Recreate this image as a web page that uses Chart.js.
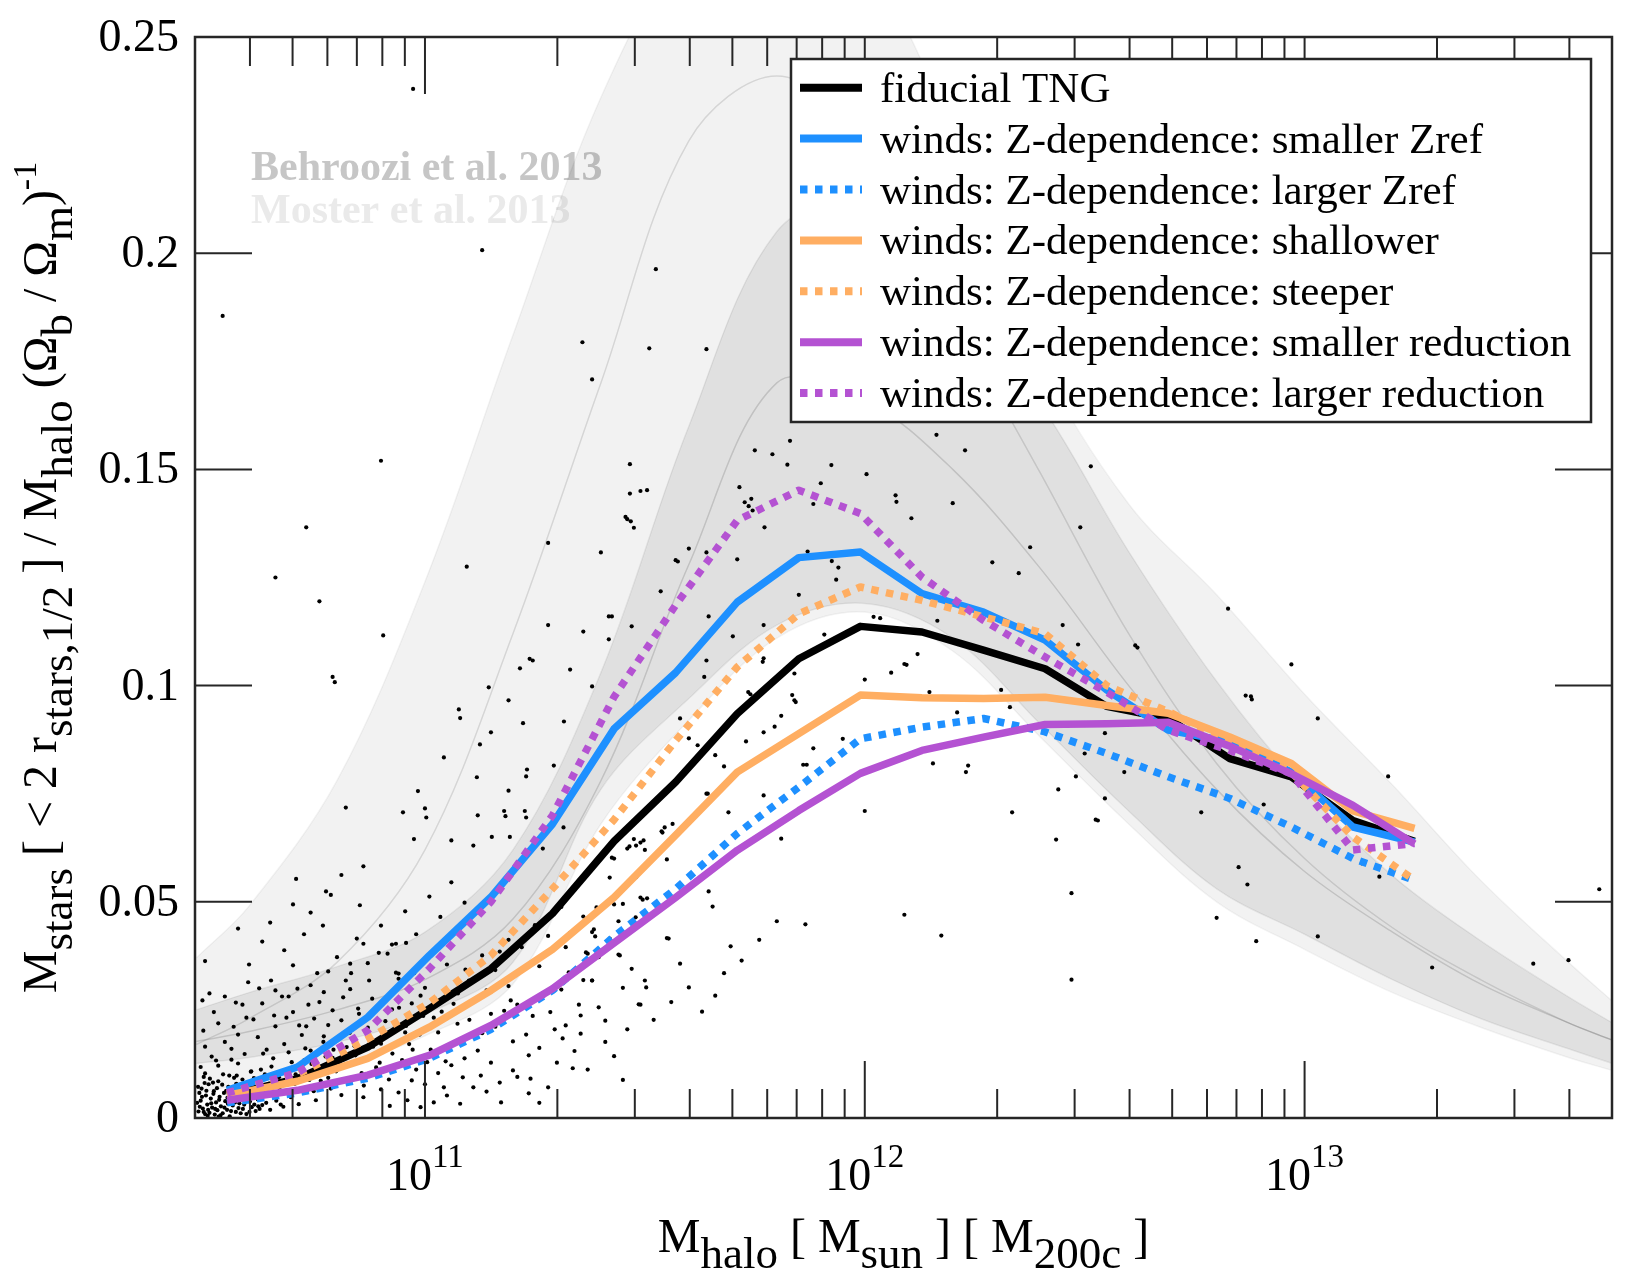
<!DOCTYPE html>
<html>
<head>
<meta charset="utf-8">
<script src="https://cdn.jsdelivr.net/npm/chart.js@4.4.1/dist/chart.umd.min.js"></script>
<style>
  html, body { margin: 0; padding: 0; background: #ffffff; }
  canvas { display: block; }
</style>
</head>
<body>
<canvas id="shmr" width="1650" height="1275"></canvas>
<script>
"use strict"

const SERIF = '"Liberation Serif", "Times New Roman", serif';

// bin centres, log10 of halo mass
const binLogM = [10.55, 10.71, 10.87, 11.01, 11.15, 11.29, 11.43, 11.57, 11.71, 11.85,
                 11.99, 12.13, 12.27, 12.41, 12.55, 12.69, 12.83, 12.97, 13.11, 13.25];

const fiducial       = [0.0052, 0.0091, 0.0164, 0.0253, 0.0345, 0.0473, 0.0640, 0.0777, 0.0935, 0.1062,
                        0.1137, 0.1124, 0.1082, 0.1039, 0.0952, 0.0924, 0.0831, 0.0789, 0.0688, 0.0640];
const smallerZref    = [0.0064, 0.0118, 0.0233, 0.0376, 0.0511, 0.0680, 0.0900, 0.1030, 0.1193, 0.1296,
                        0.1309, 0.1213, 0.1170, 0.1105, 0.0990, 0.0897, 0.0870, 0.0800, 0.0673, 0.0638];
const largerZref     = [0.0035, 0.0058, 0.0092, 0.0138, 0.0205, 0.0295, 0.0420, 0.0530, 0.0658, 0.0765,
                        0.0877, 0.0904, 0.0924, 0.0893, 0.0843, 0.0789, 0.0739, 0.0673, 0.0600, 0.0550];
const shallower      = [0.0052, 0.0085, 0.0138, 0.0210, 0.0295, 0.0390, 0.0510, 0.0654, 0.0800, 0.0889,
                        0.0978, 0.0972, 0.0970, 0.0973, 0.0954, 0.0936, 0.0881, 0.0820, 0.0710, 0.0670];
const steeper        = [0.0056, 0.0101, 0.0183, 0.0266, 0.0376, 0.0530, 0.0690, 0.0873, 0.1043, 0.1166,
                        0.1228, 0.1197, 0.1159, 0.1120, 0.1000, 0.0940, 0.0870, 0.0800, 0.0650, 0.0550];
const smallerReduct  = [0.0041, 0.0064, 0.0099, 0.0145, 0.0214, 0.0299, 0.0405, 0.0510, 0.0619, 0.0711,
                        0.0797, 0.0850, 0.0881, 0.0910, 0.0912, 0.0915, 0.0860, 0.0796, 0.0723, 0.0634];
const largerReduct   = [0.0058, 0.0105, 0.0203, 0.0345, 0.0500, 0.0700, 0.0974, 0.1186, 0.1382, 0.1452,
                        0.1398, 0.1251, 0.1151, 0.1066, 0.0985, 0.0897, 0.0850, 0.0796, 0.0620, 0.0635];

// observational bands (grey), log10 halo mass
const bandLogM    = [10.48, 10.6, 10.8, 11.0, 11.2, 11.4, 11.6, 11.8, 12.0, 12.2, 12.4, 12.6, 12.8, 13.0, 13.2, 13.4, 13.6, 13.7];
const mosterUp    = [0.037, 0.049, 0.078, 0.124, 0.181, 0.236, 0.272, 0.285, 0.268, 0.228, 0.175, 0.142, 0.121, 0.098, 0.077, 0.055, 0.036, 0.027];
const mosterMid   = [0.017, 0.023, 0.036, 0.062, 0.112, 0.170, 0.226, 0.241, 0.226, 0.186, 0.149, 0.112, 0.082, 0.060, 0.044, 0.032, 0.022, 0.018];
const mosterLow   = [0.006, 0.008, 0.012, 0.019, 0.031, 0.068, 0.092, 0.111, 0.117, 0.108, 0.088, 0.068, 0.050, 0.039, 0.029, 0.021, 0.014, 0.011];
const behrooziUp  = [0.025, 0.029, 0.035, 0.043, 0.062, 0.103, 0.160, 0.205, 0.212, 0.190, 0.165, 0.131, 0.101, 0.076, 0.056, 0.041, 0.028, 0.022];
const behrooziMid = [0.0177, 0.020, 0.025, 0.032, 0.046, 0.078, 0.128, 0.170, 0.166, 0.150, 0.127, 0.100, 0.076, 0.057, 0.043, 0.031, 0.022, 0.018];
const behrooziLow = [0.0126, 0.014, 0.0175, 0.024, 0.036, 0.076, 0.097, 0.114, 0.119, 0.111, 0.091, 0.071, 0.053, 0.0425, 0.032, 0.023, 0.016, 0.0126];

// individual haloes [log10 M, value]
const haloDots = [
  [10.54,0.1855],[10.973,0.238],[11.13,0.2007],[11.358,0.1794],[11.38,0.1708],[11.51,0.178],[11.64,0.1778],[11.525,0.1963],
  [10.73,0.1366],[10.66,0.125],[10.76,0.1195],[10.90,0.152],[10.905,0.1116],[10.79,0.102],[10.795,0.1008],[11.095,0.1275],
  [11.466,0.1512],[11.49,0.145],[11.505,0.1452],[11.46,0.1385],[11.468,0.138],[11.475,0.1365],[11.28,0.133],[11.40,0.1308],
  [11.36,0.1125],[11.28,0.114],[11.245,0.1058],[11.238,0.1062],[11.216,0.104],[11.33,0.1037],[11.145,0.0996],[11.19,0.0966],
  [11.38,0.0998],[11.077,0.0945],[11.08,0.0925],[11.043,0.0834],[11.15,0.0892],[11.223,0.0913],[11.316,0.0917],[11.418,0.1107],
  [11.125,0.0864],[11.418,0.116],[11.75,0.1544],[11.79,0.1535],[11.83,0.1566],[11.824,0.1511],[11.924,0.151],[11.90,0.1468],
  [12.004,0.1489],[11.715,0.1459],[11.736,0.1415],[11.742,0.1432],[11.745,0.1405],[12.163,0.158],[12.228,0.1544],[11.466,0.1444],
  [11.456,0.139],[11.60,0.1317],[11.57,0.129],[11.575,0.1287],[11.64,0.1308],[11.71,0.1292],[11.68,0.1345],[11.727,0.1424],
  [11.772,0.1366],[11.883,0.142],[12.07,0.144],[12.072,0.1425],[12.106,0.1387],[12.2,0.1422],[12.49,0.1366],[12.376,0.132],
  [12.29,0.1285],[12.35,0.126],[11.87,0.131],[11.872,0.1298],[11.94,0.1273],[11.925,0.1288],[11.85,0.121],[11.935,0.1245],
  [11.536,0.1218],[11.645,0.116],[11.425,0.116],[11.47,0.1137],[11.70,0.1114],[11.77,0.114],[12.02,0.1159],[12.035,0.1156],
  [12.12,0.1073],[12.09,0.105],[12.095,0.1048],[12.06,0.103],[12.0,0.1014],[11.908,0.1118],[11.84,0.1028],[11.84,0.0966],
  [11.835,0.0978],[11.843,0.0962],[11.81,0.093],[11.795,0.0905],[11.77,0.0892],[11.74,0.098],[11.735,0.0985],[11.77,0.1063],
  [11.768,0.1055],[11.64,0.1058],[11.635,0.102],[11.58,0.0924],[11.60,0.0878],[11.62,0.0862],[11.66,0.0839],[11.68,0.0813],
  [11.73,0.0871],[11.643,0.075],[11.563,0.068],[11.538,0.0663],[11.49,0.0637],[11.475,0.0645],[11.48,0.063],[11.46,0.0623],
  [11.465,0.0628],[11.43,0.060],[11.425,0.0602],[11.55,0.0598],[11.42,0.0556],[11.49,0.051],[11.505,0.0508],[11.495,0.0505],
  [11.81,0.0646],[11.883,0.0855],[11.95,0.0877],[11.86,0.0817],[11.868,0.0817],[11.77,0.0746],[11.69,0.0707],[11.645,0.0524],
  [12.0,0.071],[12.155,0.082],[12.23,0.080],[12.235,0.0815],[12.335,0.0707],[12.44,0.076],[12.48,0.079],[12.53,0.0688],
  [12.435,0.0644],[12.546,0.0739],[12.47,0.052],[12.21,0.0938],[12.31,0.099],[12.33,0.095],[12.147,0.0985],[12.165,0.115],
  [12.45,0.114],[12.485,0.1095],[12.546,0.089],[12.514,0.1507],[12.826,0.1178],[12.615,0.1093],[12.62,0.1088],[12.97,0.1049],
  [12.866,0.0977],[12.878,0.0975],[12.88,0.0968],[13.03,0.0924],[12.59,0.080],[12.50,0.0843],[12.765,0.0707],[12.525,0.069],
  [13.19,0.079],[12.85,0.058],[12.87,0.054],[12.907,0.0725],[12.80,0.0463],[12.89,0.0409],[13.03,0.042],[13.13,0.0589],
  [12.47,0.032],[13.29,0.0348],[13.52,0.0357],[13.60,0.0365],[13.67,0.0529],[12.09,0.047],[12.174,0.0422],[13.17,0.0558],
  [10.82,0.0718],[10.984,0.0756],[11.0,0.0716],[11.003,0.0695],[10.95,0.0707],[11.118,0.0788],[11.232,0.0806],[11.23,0.079],
  [11.293,0.0815],[11.19,0.0757],[11.12,0.070],[11.18,0.071],[11.183,0.0698],[11.227,0.071],[11.23,0.0695],[10.975,0.0645],
  [11.06,0.0642],[11.11,0.063],[11.152,0.065],[11.193,0.065],[11.268,0.0623],[11.315,0.0672],[10.707,0.0553],[10.775,0.0524],
  [10.786,0.0516],[10.70,0.0494],[10.852,0.0492],[10.648,0.0452],[10.575,0.0438],[10.768,0.0445],[10.50,0.0363],[10.60,0.0355],
  [10.70,0.0353],[10.65,0.0318],[10.623,0.030],[10.598,0.0314],[10.675,0.0281],[10.69,0.0281],[10.51,0.0288],[10.494,0.0272],
  [10.57,0.0267],[10.74,0.0307],[10.78,0.0339],[10.83,0.0357],[10.832,0.0335],[10.86,0.0403],[10.895,0.0382],[10.915,0.038],
  [10.934,0.0403],[10.957,0.0405],[10.934,0.0336],[10.94,0.0334],[10.975,0.0335],[10.873,0.0318],[10.814,0.0279],[10.79,0.0249],
  [10.848,0.0253],[10.748,0.023],[10.714,0.0214],[10.73,0.0212],[10.657,0.0237],[10.594,0.0232],[10.53,0.0219],[10.56,0.016],
  [10.496,0.0202],[10.525,0.0133],[10.50,0.0103],[10.632,0.0149],[10.575,0.0126],[11.336,0.0115],[11.236,0.0057],[11.173,0.0036],
  [11.02,0.0036],[11.11,0.0071],[11.043,0.0071],[11.086,0.0094],[11.127,0.0098],[11.20,0.011],[11.21,0.0095],[11.236,0.0145],
  [11.313,0.0184],[11.354,0.0195],[11.354,0.0237],[11.395,0.0256],[11.486,0.0263],[11.32,0.0214],[11.195,0.0272],[11.38,0.0318],
  [11.44,0.0378],[11.50,0.0318],[11.503,0.0302],[11.58,0.0357],[11.66,0.0283],[11.554,0.0415],[11.64,0.075],[11.654,0.0489],
  [11.545,0.0672],[11.54,0.066],[11.497,0.0642],[11.50,0.062],[11.48,0.0557],[11.43,0.0494],[11.45,0.0495],[11.479,0.0464],
  [11.384,0.0436],[11.387,0.042],[11.366,0.0383],[11.37,0.038],[11.395,0.0372],[11.327,0.0337],[11.695,0.0397],[11.865,0.0448],
  [11.55,0.0416],[11.443,0.0376],[11.38,0.043],[11.49,0.0262],
  // dense low-mass cloud
  [10.485,0.0015],[10.49,0.004],[10.492,0.0068],[10.495,0.0022],[10.50,0.0009],[10.502,0.0052],[10.505,0.0031],[10.508,0.0078],
  [10.51,0.0012],[10.513,0.0045],[10.516,0.0024],[10.52,0.0062],[10.522,0.0008],[10.525,0.0036],[10.528,0.0018],[10.53,0.0085],
  [10.533,0.0049],[10.536,0.0027],[10.54,0.0011],[10.543,0.0058],[10.546,0.0039],[10.55,0.0019],[10.553,0.0072],[10.556,0.0004],
  [10.56,0.0044],[10.563,0.0029],[10.566,0.0093],[10.57,0.0014],[10.574,0.0054],[10.578,0.0034],[10.582,0.0066],[10.586,0.0021],
  [10.59,0.0047],[10.594,0.0009],[10.598,0.0081],[10.602,0.0038],[10.606,0.0025],[10.61,0.0059],[10.615,0.0016],[10.62,0.0043],
  [10.487,0.0058],[10.497,0.0095],[10.506,0.0005],[10.518,0.0082],[10.531,0.0003],[10.541,0.0101],[10.552,0.0033],[10.561,0.0069],
  [10.572,0.0098],[10.581,0.0011],[10.593,0.0062],[10.604,0.0107],[10.612,0.0031],[10.624,0.0021],[10.628,0.0088],[10.633,0.0052],
  [10.625,0.0074],[10.63,0.003],[10.636,0.0101],[10.642,0.0055],[10.648,0.0019],[10.655,0.0088],[10.662,0.004],[10.67,0.0065],
  [10.678,0.0026],[10.686,0.0112],[10.695,0.0048],[10.704,0.0079],[10.713,0.0032],[10.722,0.0097],[10.732,0.006],[10.742,0.0125],
  [10.752,0.0041],[10.763,0.0086],[10.774,0.0142],[10.786,0.0068],[10.798,0.0108],[10.81,0.0053],[10.822,0.0164],[10.835,0.0092],
  [10.848,0.0128],[10.861,0.0075],[10.875,0.0183],[10.889,0.0117],[10.903,0.0152],[10.918,0.0089],[10.933,0.0205],[10.948,0.0134],
  [10.964,0.0171],[10.98,0.0112],[10.996,0.0236],[11.013,0.0158],[11.03,0.0198],[11.047,0.0131],[11.065,0.0264],[11.083,0.0182],
  [11.101,0.0227],[11.12,0.0156],[11.14,0.0295],[11.16,0.0211],[11.18,0.0248],[11.20,0.0177],[11.22,0.034],[11.245,0.0236],
  [11.27,0.0283],[11.295,0.0205],[11.32,0.0395],[11.35,0.0262],[11.38,0.0318],[11.41,0.0225],[11.44,0.0455],[11.47,0.0345],
  [10.49,0.0118],[10.50,0.0165],[10.515,0.0142],[10.53,0.0121],[10.545,0.0176],[10.56,0.0135],[10.575,0.0193],[10.59,0.0148],
  [10.605,0.0108],[10.62,0.0187],[10.64,0.0158],[10.66,0.0212],[10.68,0.0171],[10.70,0.0245],[10.72,0.0192],[10.74,0.0156],
  [10.76,0.0268],[10.78,0.0215],[10.80,0.0181],[10.83,0.0298],[10.85,0.0241],[10.88,0.0276],[10.91,0.0224],[10.94,0.0322],
  [10.97,0.0265],[11.0,0.0301],[10.655,0.0138],[10.668,0.0094],[10.69,0.0152],[10.71,0.0118],[10.728,0.0161],[10.75,0.0102],
  [10.77,0.0189],[10.79,0.0139],[10.81,0.0226],[10.84,0.0166],[10.87,0.0209],[10.9,0.0172],[10.925,0.0251],[10.955,0.0198],
  [10.99,0.0283],[11.02,0.0232],[11.05,0.0355],[11.075,0.0288],[11.1,0.0318],[11.13,0.0376],[11.16,0.0342],[11.19,0.0412],
  [11.22,0.0395],[11.25,0.0446],[11.28,0.0421],[11.31,0.0488],[11.34,0.0528],[11.36,0.0466],[10.86,0.0048],[10.9,0.0066],
  [10.94,0.0059],[10.97,0.0087],[11.0,0.0078],[11.03,0.0104],[11.06,0.0122],[11.09,0.0138],[11.15,0.0128],[11.26,0.0162],
  [10.482,0.0035],[10.484,0.0072],[10.488,0.0026],[10.493,0.0049],[10.497,0.0014],[10.499,0.0081],[10.503,0.0063],[10.507,0.0019],
  [10.511,0.0091],[10.514,0.0034],[10.519,0.0056],[10.523,0.0021],[10.527,0.0069],[10.532,0.0042],[10.535,0.0006],[10.539,0.0077],
  [10.544,0.0024],[10.548,0.0063],[10.551,0.0047],[10.555,0.0098],[10.559,0.0016],[10.564,0.0061],[10.568,0.0036],[10.571,0.0079],
  [10.576,0.0023],[10.58,0.0051],[10.585,0.0089],[10.589,0.0031],[10.592,0.0072],[10.597,0.0045],[10.601,0.0014],[10.607,0.0068],
  [10.611,0.0092],[10.617,0.0051],[10.621,0.0027],[10.627,0.0112],[10.634,0.0064],[10.639,0.0035],[10.645,0.0079],[10.651,0.0119],
  [10.658,0.0057],[10.664,0.0096],[10.672,0.0031],[10.68,0.0083],[10.688,0.0058],[10.697,0.0129],[10.706,0.0101],[10.716,0.0067],
  [10.726,0.0134],[10.737,0.0088],[10.747,0.0062],[10.758,0.0115],[10.769,0.0176],[10.78,0.0093],[10.792,0.0158],[10.804,0.0129],
  [10.817,0.0089],[10.829,0.0197],[10.842,0.0145],[10.856,0.0104],[10.868,0.0232],[10.882,0.0165],[10.897,0.0128],[10.911,0.0191],
  [10.926,0.0149],[10.941,0.0255],[10.957,0.0213],[10.972,0.0158],[10.988,0.0193],[11.005,0.0129],[11.022,0.0277],[11.038,0.0246],
  [11.056,0.0168],[11.074,0.0218],[11.092,0.0343],[11.11,0.0268],[11.13,0.0196],[11.15,0.0241],[11.17,0.0385],[11.19,0.0305],
  [11.21,0.0262],[11.23,0.0193],[11.26,0.0351],[11.285,0.0245],[11.31,0.0297],[11.33,0.0428],[11.36,0.0319],[11.39,0.0487],
  [11.42,0.0415],[11.45,0.0301],
  [10.52,0.0245],[10.545,0.0281],[10.565,0.0211],[10.585,0.0262],[10.61,0.0228],[10.63,0.0265],[10.66,0.0295],[10.685,0.0232],
  [10.71,0.0299],[10.735,0.0262],[10.755,0.0335],[10.77,0.0291],[10.80,0.0372],[10.82,0.0318],[10.845,0.0415],[10.87,0.0358],
  [10.90,0.0445],[10.925,0.0401],[10.955,0.0478],[10.98,0.0425],[11.01,0.0512],[11.035,0.0465],[11.06,0.0545],[11.09,0.0498],
  [10.63,0.0408],[10.68,0.0388],[10.725,0.0425],[10.74,0.0475],[10.81,0.0562],[10.86,0.0582],
  [10.92,0.0028],[10.96,0.0041],[10.99,0.0025],[11.05,0.0052],[11.08,0.0033],[11.14,0.0061],[11.17,0.0082],[11.24,0.0091],
  [11.28,0.0071],[11.30,0.0128],[11.34,0.0155],[11.37,0.0112],[11.41,0.0176],[11.43,0.0143],[11.46,0.0205],[11.52,0.0227],
  [11.56,0.0268],[11.60,0.0302],[11.63,0.0246],[11.68,0.0335],[11.72,0.0364],[11.76,0.0412],[11.80,0.0455],[11.45,0.0088],
  [11.26,0.0035]
];

const yTicks = [0, 0.05, 0.1, 0.15, 0.2, 0.25];
const xDecades = [11, 12, 13];

function toPoints(logM, vals) {
  return logM.map((m, i) => ({ x: Math.pow(10, m), y: vals[i] }));
}

function bandEdge(vals, fill, color, order) {
  return {
    data: toPoints(bandLogM, vals),
    borderColor: color, borderWidth: 1.5, backgroundColor: fill,
    fill: fill ? '+1' : false, pointRadius: 0, tension: 0.35, order: order
  };
}

function model(label, vals, color, dotted, order) {
  return {
    label: label, data: toPoints(binLogM, vals),
    borderColor: color, borderWidth: 7.5, borderDash: dotted ? [7.5, 7.5] : [],
    borderCapStyle: 'butt', borderJoinStyle: 'round',
    pointRadius: 0, tension: 0, fill: false, order: order, isModel: true
  };
}

const datasets = [
  bandEdge(mosterUp, 'rgba(0,0,0,0.05)', 'rgba(0,0,0,0.05)', 30),
  bandEdge(mosterLow, null, 'rgba(0,0,0,0.05)', 29),
  bandEdge(mosterMid, null, 'rgba(0,0,0,0.12)', 28),
  bandEdge(behrooziUp, 'rgba(0,0,0,0.08)', 'rgba(0,0,0,0.07)', 27),
  bandEdge(behrooziLow, null, 'rgba(0,0,0,0.07)', 26),
  bandEdge(behrooziMid, null, 'rgba(0,0,0,0.14)', 25),
  {
    data: haloDots.map(d => ({ x: Math.pow(10, d[0]), y: d[1] })),
    showLine: false, pointRadius: 2.1, pointBackgroundColor: '#000', pointBorderWidth: 0, order: 20
  },
  model('fiducial TNG', fiducial, '#000000', false, 7),
  model('winds: Z-dependence: smaller Zref', smallerZref, '#1e90ff', false, 6),
  model('winds: Z-dependence: larger Zref', largerZref, '#1e90ff', true, 5),
  model('winds: Z-dependence: shallower', shallower, '#ffae62', false, 4),
  model('winds: Z-dependence: steeper', steeper, '#ffae62', true, 3),
  model('winds: Z-dependence: smaller reduction', smallerReduct, '#b452d2', false, 2),
  model('winds: Z-dependence: larger reduction', largerReduct, '#b452d2', true, 1)
];

function line(ctx, x1, y1, x2, y2) {
  ctx.beginPath(); ctx.moveTo(x1, y1); ctx.lineTo(x2, y2); ctx.stroke();
}

// parts: [text, size, baseline shift]
function richWidth(ctx, parts) {
  let w = 0;
  parts.forEach(p => { ctx.font = p[1] + 'px ' + SERIF; w += ctx.measureText(p[0]).width; });
  return w;
}
function drawRich(ctx, parts, x, y) {
  parts.forEach(p => {
    ctx.font = p[1] + 'px ' + SERIF;
    ctx.fillText(p[0], x, y + p[2]);
    x += ctx.measureText(p[0]).width;
  });
}

const xTitle = [['M', 48, 0], ['halo', 45, 16], [' [ M', 48, 0], ['sun', 45, 16], [' ] [ M', 48, 0], ['200c', 45, 16], [' ]', 48, 0]];
const yTitle = [['M', 48, 0], ['stars', 45, 16], [' [ < 2 r', 48, 0], ['stars,1/2', 45, 16], [' ] / M', 48, 0], ['halo', 45, 16],
                [' (\u03A9', 48, 0], ['b', 45, 16], [' / \u03A9', 48, 0], ['m', 45, 16], [')', 48, 0], ['-1', 34, -20]];

const axesPlugin = {
  id: 'axesPlugin',
  beforeDatasetsDraw(chart) {
    const ctx = chart.ctx;
    ctx.save();
    ctx.font = 'bold 42px ' + SERIF;
    ctx.textBaseline = 'alphabetic';
    ctx.fillStyle = '#c6c6c6';
    ctx.fillText('Behroozi et al. 2013', 251, 180);
    ctx.fillStyle = '#eaeaea';
    ctx.fillText('Moster et al. 2013', 251, 223);
    ctx.restore();
  },
  afterDatasetsDraw(chart) {
    const ctx = chart.ctx, a = chart.chartArea;
    const xs = chart.scales.x, ys = chart.scales.y;
    ctx.save();
    ctx.strokeStyle = '#262626';
    ctx.lineWidth = 2;

    // x ticks, inward, bottom and top
    for (let d = 10; d <= 13; d++) {
      for (let m = 1; m <= 9; m++) {
        const v = m * Math.pow(10, d);
        if (v <= xs.min || v >= xs.max) continue;
        const px = xs.getPixelForValue(v);
        const len = m === 1 ? 57 : 29;
        line(ctx, px, a.bottom, px, a.bottom - len);
        line(ctx, px, a.top, px, a.top + len);
      }
    }
    // y ticks, inward, left and right
    yTicks.forEach(v => {
      const py = ys.getPixelForValue(v);
      line(ctx, a.left, py, a.left + 57, py);
      line(ctx, a.right, py, a.right - 57, py);
    });
    ctx.lineWidth = 2.5;
    ctx.strokeRect(a.left, a.top, a.right - a.left, a.bottom - a.top);

    // tick labels
    ctx.fillStyle = '#000';
    ctx.font = '46px ' + SERIF;
    ctx.textAlign = 'right';
    ctx.textBaseline = 'middle';
    yTicks.forEach(v => {
      ctx.fillText(String(+v.toFixed(2)), a.left - 16, ys.getPixelForValue(v) + 2);
    });
    ctx.textAlign = 'left';
    ctx.textBaseline = 'alphabetic';
    xDecades.forEach(d => {
      const px = xs.getPixelForValue(Math.pow(10, d));
      const parts = [['10', 46, 0], [String(d), 33, -23]];
      drawRich(ctx, parts, px - richWidth(ctx, parts) / 2, 1190);
    });

    // axis titles
    const cx = (a.left + a.right) / 2, cy = (a.top + a.bottom) / 2;
    drawRich(ctx, xTitle, cx - richWidth(ctx, xTitle) / 2, 1252);
    ctx.save();
    ctx.translate(56, cy);
    ctx.rotate(-Math.PI / 2);
    drawRich(ctx, yTitle, -richWidth(ctx, yTitle) / 2, 0);
    ctx.restore();

    // legend
    const lx = 791, ly = 59, lw = 800, lh = 363;
    ctx.fillStyle = '#ffffff';
    ctx.fillRect(lx, ly, lw, lh);
    ctx.strokeStyle = '#262626';
    ctx.lineWidth = 2.5;
    ctx.strokeRect(lx, ly, lw, lh);
    const rows = chart.data.datasets.filter(ds => ds.isModel);
    rows.forEach((ds, i) => {
      const ry = 87.7 + i * 50.9;
      ctx.strokeStyle = ds.borderColor;
      ctx.lineWidth = 8;
      ctx.lineCap = 'butt';
      ctx.setLineDash(ds.borderDash);
      line(ctx, 800, ry, 862, ry);
      ctx.setLineDash([]);
      ctx.fillStyle = '#000';
      ctx.font = '43px ' + SERIF;
      ctx.fillText(ds.label, 880, ry + 14);
    });
    ctx.restore();
  }
};

new Chart(document.getElementById('shmr'), {
  type: 'line',
  data: { datasets: datasets },
  options: {
    responsive: false,
    devicePixelRatio: 1,
    animation: false,
    layout: { padding: { left: 195, right: 38, top: 37, bottom: 157 } },
    scales: {
      x: { type: 'logarithmic', min: 3e10, max: 5e13, display: false },
      y: { type: 'linear', min: 0, max: 0.25, display: false }
    },
    plugins: {
      legend: { display: false },
      tooltip: { enabled: false }
    }
  },
  plugins: [axesPlugin]
});
</script>
</body>
</html>
